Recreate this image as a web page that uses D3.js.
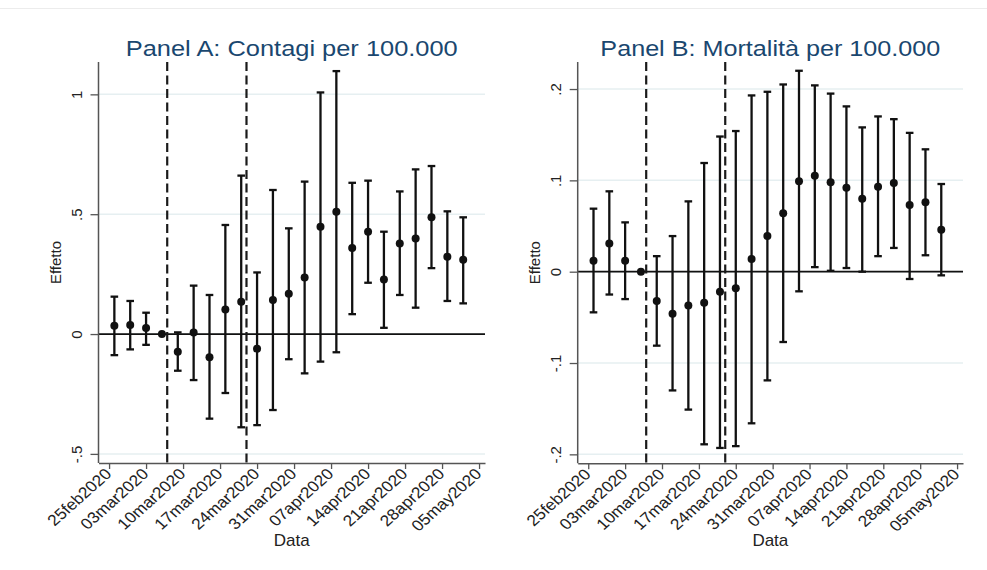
<!DOCTYPE html>
<html>
<head>
<meta charset="utf-8">
<script src="https://cdn.jsdelivr.net/npm/d3@7"></script>
<style>
  body { margin: 0; background: #ffffff; }
  svg { display: block; font-family: "Liberation Sans", Arial, sans-serif; }
</style>
</head>
<body>
<svg id="chart" width="987" height="570"></svg>
<script>
// ---------------- DATA ----------------
const dates = ["2020-02-26","2020-02-29","2020-03-03","2020-03-06","2020-03-09","2020-03-12",
  "2020-03-15","2020-03-18","2020-03-21","2020-03-24","2020-03-27","2020-03-30","2020-04-02",
  "2020-04-05","2020-04-08","2020-04-11","2020-04-14","2020-04-17","2020-04-20","2020-04-23",
  "2020-04-26","2020-04-29","2020-05-02"];

// Panel A: Contagi per 100.000
const coefA = [0.035, 0.038, 0.025, 0, -0.074, 0.006, -0.097, 0.102, 0.135, -0.061, 0.142, 0.168,
  0.236, 0.448, 0.510, 0.359, 0.427, 0.228, 0.378, 0.399, 0.487, 0.323, 0.310];
const lowA = [-0.088, -0.064, -0.045, 0, -0.153, -0.192, -0.353, -0.246, -0.389, -0.380, -0.317, -0.105,
  -0.164, -0.115, -0.076, 0.083, 0.214, 0.026, 0.163, 0.110, 0.275, 0.138, 0.128];
const highA = [0.156, 0.138, 0.089, 0, 0.007, 0.202, 0.163, 0.455, 0.661, 0.257, 0.601, 0.441,
  0.636, 1.008, 1.097, 0.631, 0.640, 0.427, 0.595, 0.687, 0.701, 0.512, 0.487];

// Panel B: Mortalità per 100.000
const coefB = [0.012, 0.031, 0.012, 0, -0.032, -0.046, -0.037, -0.034, -0.022, -0.018, 0.014, 0.039,
  0.064, 0.099, 0.105, 0.098, 0.092, 0.080, 0.093, 0.097, 0.073, 0.076, 0.046];
const lowB = [-0.0445, -0.025, -0.030, 0, -0.081, -0.130, -0.151, -0.189, -0.193, -0.191, -0.166, -0.119,
  -0.077, -0.0215, 0.005, 0.001, 0.004, 0.000, 0.017, 0.026, -0.008, 0.018, -0.004];
const highB = [0.069, 0.088, 0.054, 0, 0.017, 0.039, 0.077, 0.119, 0.148, 0.154, 0.193, 0.197,
  0.205, 0.220, 0.204, 0.195, 0.181, 0.158, 0.170, 0.167, 0.152, 0.134, 0.096];

// Event lines (dashed)
const eventDates = ["2020-03-07", "2020-03-22"];

// Axis ticks
const xTickDates = ["2020-02-25","2020-03-03","2020-03-10","2020-03-17","2020-03-24","2020-03-31",
  "2020-04-07","2020-04-14","2020-04-21","2020-04-28","2020-05-05"];
const xTickLabels = ["25feb2020","03mar2020","10mar2020","17mar2020","24mar2020","31mar2020",
  "07apr2020","14apr2020","21apr2020","28apr2020","05may2020"];
const yTicksA = [-0.5, 0, 0.5, 1];
const yTickLabelsA = ["-.5", "0", ".5", "1"];
const yTicksB = [-0.2, -0.1, 0, 0.1, 0.2];
const yTickLabelsB = ["-.2", "-.1", "0", ".1", ".2"];

const titleA = "Panel A: Contagi per 100.000";
const titleB = "Panel B: Mortalità per 100.000";
const yTitle = "Effetto";
const xTitle = "Data";

// ---------------- DRAW ----------------
const parse = d3.timeParse("%Y-%m-%d");
const svg = d3.select("#chart");

svg.append("line").attr("x1", 0).attr("x2", 987).attr("y1", 8.5).attr("y2", 8.5)
  .attr("stroke", "#ececec").attr("stroke-width", 1);

function panel(cfg) {
  const g = svg.append("g");
  const x = d3.scaleTime()
    .domain([new Date(2020, 1, 23), new Date(2020, 4, 6, 3)])
    .range([cfg.left, cfg.right]);
  const y = d3.scaleLinear().domain(cfg.yDomain).range([cfg.bottom, cfg.top]);

  // gridlines
  g.selectAll(".grid").data(cfg.yTicks).join("line")
    .attr("x1", cfg.left).attr("x2", cfg.right)
    .attr("y1", d => y(d)).attr("y2", d => y(d))
    .attr("stroke", "#e6eff1").attr("stroke-width", 1.5);

  // zero line
  g.append("line").attr("x1", cfg.left).attr("x2", cfg.right)
    .attr("y1", y(0)).attr("y2", y(0))
    .attr("stroke", "#111").attr("stroke-width", 1.8);

  // dashed event lines
  g.selectAll(".ev").data(eventDates).join("line")
    .attr("x1", d => x(parse(d))).attr("x2", d => x(parse(d)))
    .attr("y1", cfg.top).attr("y2", cfg.bottom)
    .attr("stroke", "#1a1a1a").attr("stroke-width", 2.2)
    .attr("stroke-dasharray", "9,4.5");

  // error bars
  const rows = dates.map((d, i) => ({ t: parse(d), c: cfg.coef[i], lo: cfg.low[i], hi: cfg.high[i] }));
  const bars = rows.filter(r => r.hi !== r.lo);
  const capW = 3.8;
  const sw = 2.3;
  g.selectAll(".eb").data(bars).join("line")
    .attr("x1", d => x(d.t)).attr("x2", d => x(d.t))
    .attr("y1", d => y(d.lo)).attr("y2", d => y(d.hi))
    .attr("stroke", "#111").attr("stroke-width", sw);
  g.selectAll(".capH").data(bars).join("line")
    .attr("x1", d => x(d.t) - capW).attr("x2", d => x(d.t) + capW)
    .attr("y1", d => y(d.hi)).attr("y2", d => y(d.hi))
    .attr("stroke", "#111").attr("stroke-width", sw);
  g.selectAll(".capL").data(bars).join("line")
    .attr("x1", d => x(d.t) - capW).attr("x2", d => x(d.t) + capW)
    .attr("y1", d => y(d.lo)).attr("y2", d => y(d.lo))
    .attr("stroke", "#111").attr("stroke-width", sw);
  g.selectAll(".pt").data(rows).join("circle")
    .attr("cx", d => x(d.t)).attr("cy", d => y(d.c)).attr("r", 4)
    .attr("fill", "#111");

  // y axis
  const ya = g.append("g").attr("transform", `translate(${cfg.left},0)`)
    .call(d3.axisLeft(y).tickValues(cfg.yTicks).tickFormat((d, i) => cfg.yLabels[i])
      .tickSize(8).tickSizeOuter(0));
  ya.select(".domain").attr("stroke", "#555").attr("stroke-width", 1.5)
    .attr("d", `M0,${cfg.bottom}V${cfg.top}`);
  ya.selectAll(".tick line").attr("stroke", "#555").attr("stroke-width", 1.3);
  ya.selectAll(".tick text")
    .attr("transform", "rotate(-90)").attr("x", 0).attr("y", -17).attr("dy", 0)
    .attr("text-anchor", "middle").attr("font-size", 15).attr("fill", "#222")
    .attr("font-family", "Liberation Sans, Arial, sans-serif");

  // x axis
  const xa = g.append("g").attr("transform", `translate(0,${cfg.bottom})`)
    .call(d3.axisBottom(x).tickValues(xTickDates.map(parse)).tickFormat((d, i) => xTickLabels[i])
      .tickSize(6).tickSizeOuter(0));
  xa.select(".domain").attr("stroke", "#555").attr("stroke-width", 1.5);
  xa.selectAll(".tick line").attr("stroke", "#555").attr("stroke-width", 1.3);
  xa.selectAll(".tick text")
    .attr("transform", "translate(3,12) scale(1.12,1) rotate(-45)")
    .attr("x", 0).attr("y", 0).attr("dy", 0)
    .attr("text-anchor", "end").attr("font-size", 15.5).attr("fill", "#222")
    .attr("font-family", "Liberation Sans, Arial, sans-serif");

  const cx = (cfg.left + cfg.right) / 2;
  // titles
  g.append("text").attr("x", cx).attr("y", 56).attr("text-anchor", "middle")
    .attr("font-size", 22).attr("fill", "#1a476f")
    .attr("textLength", cfg.titleLen).attr("lengthAdjust", "spacingAndGlyphs")
    .text(cfg.title);
  g.append("text").attr("x", cx).attr("y", 546).attr("text-anchor", "middle")
    .attr("font-size", 17).attr("fill", "#222").text(xTitle);
  g.append("text")
    .attr("transform", `translate(${cfg.left - 38},${(cfg.top + cfg.bottom) / 2}) rotate(-90)`)
    .attr("text-anchor", "middle").attr("font-size", 15).attr("fill", "#222").text(yTitle);
}

panel({ left: 98.5, right: 485, top: 62, bottom: 463, yDomain: [-0.538, 1.135],
  yTicks: yTicksA, yLabels: yTickLabelsA, coef: coefA, low: lowA, high: highA,
  title: titleA, titleLen: 332 });
panel({ left: 577.7, right: 963, top: 62, bottom: 463.3, yDomain: [-0.2098, 0.2296],
  yTicks: yTicksB, yLabels: yTickLabelsB, coef: coefB, low: lowB, high: highB,
  title: titleB, titleLen: 340 });
</script>
</body>
</html>
